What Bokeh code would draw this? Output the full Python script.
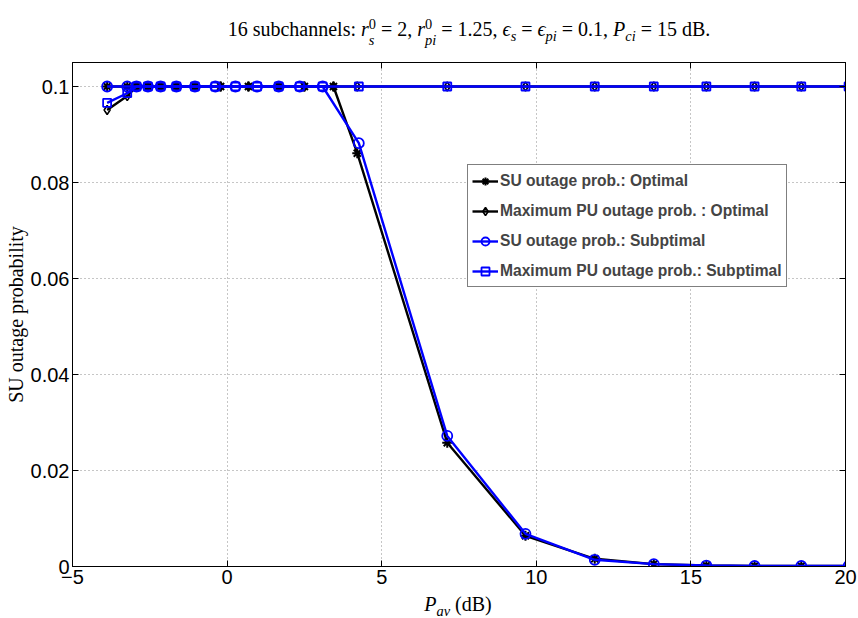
from bokeh.plotting import figure
from bokeh.models import (ColumnDataSource, Legend, LegendItem, LinearAxis,
                          FixedTicker, CustomJSTickFormatter, Range1d, Div)
from bokeh.layouts import column
from bokeh.embed import file_html
from bokeh.resources import INLINE

# Average power budget (dB) at which each scheme was evaluated
p_av_subopt = [-3.88, -3.23, -2.93, -2.56, -2.15, -1.64, -1.04, -0.38, 0.27, 0.97,
               1.67, 2.35, 3.09, 4.26, 7.12, 9.65, 11.89, 13.8, 15.5, 17.06, 18.57, 20.1]
p_av_opt = [-3.88, -3.23, -2.93, -2.56, -2.15, -1.64, -1.04, -0.21, 0.69, 1.67,
            2.50, 3.44, 4.21, 7.12, 9.65, 11.89, 13.8, 15.5, 17.06, 18.57, 20.1]

# Optimal allocation
su_out_opt = [0.1, 0.1, 0.1, 0.1, 0.1, 0.1, 0.1, 0.1, 0.1, 0.1,
              0.1, 0.1, 0.0861, 0.0258, 0.0064, 0.0016, 0.0005, 0.0002, 0.0001, 0.0001, 0.0001]
pu_out_opt = [0.0951, 0.0980, 0.1, 0.1, 0.1, 0.1, 0.1, 0.1, 0.1, 0.1,
              0.1, 0.1, 0.1, 0.1, 0.1, 0.1, 0.1, 0.1, 0.1, 0.1, 0.1]

# Suboptimal allocation
su_out_sub = [0.1, 0.1, 0.1, 0.1, 0.1, 0.1, 0.1, 0.1, 0.1, 0.1,
              0.1, 0.1, 0.1, 0.0882, 0.0272, 0.0068, 0.0014, 0.0005, 0.0002, 0.0001, 0.0001, 0.0001]
pu_out_sub = [0.0966, 0.0986, 0.1, 0.1, 0.1, 0.1, 0.1, 0.1, 0.1, 0.1,
              0.1, 0.1, 0.1, 0.1, 0.1, 0.1, 0.1, 0.1, 0.1, 0.1, 0.1, 0.1]

x_ticks = [-5, 0, 5, 10, 15, 20]
y_ticks = [0, 0.02, 0.04, 0.06, 0.08, 0.1]

legend_labels = ["SU outage prob.: Optimal",
                 "Maximum PU outage prob. : Optimal",
                 "SU outage prob.: Subptimal",
                 "Maximum PU outage prob.: Subptimal"]

SERIF = "Liberation Serif"
SANS = "Liberation Sans"


def stack(sup, sub):
    # superscript stacked over subscript, as in r_s^0
    return ('<span style="display:inline-block;vertical-align:-0.62em;line-height:1.08;'
            'font-size:0.72em;text-align:left;">'
            f'<span style="display:block;font-style:normal">{sup}</span>'
            f'<span style="display:block"><i>{sub}</i></span></span>')


def sub(s):
    return f'<sub style="font-size:0.72em;line-height:0"><i>{s}</i></sub>'


title_html = ("16 subchannels: <i>r</i>" + stack("0", "s") + " = 2, <i>r</i>" + stack("0", "pi")
              + " = 1.25, <i>&#x03F5;</i>" + sub("s") + " = <i>&#x03F5;</i>" + sub("pi")
              + " = 0.1, <i>P</i>" + sub("ci") + " = 15 dB.")

title = Div(text=title_html, width=858, height=50, margin=0,
            styles={"font-family": SERIF, "font-size": "20px", "color": "black",
                    "text-align": "center", "padding-left": "80px",
                    "line-height": "58px"})

xlabel = Div(text="<i>P</i>" + sub("av") + " (dB)", width=858, height=22, margin=0,
             styles={"font-family": SERIF, "font-size": "20px", "color": "black",
                     "text-align": "center", "padding-left": "58px",
                     "line-height": "16px"})

p = figure(width=858, height=546, x_range=Range1d(-5, 20), y_range=Range1d(0, 0.105),
           output_backend="svg", toolbar_location=None,
           min_border_left=72, min_border_right=13, min_border_top=12, min_border_bottom=30)

p.outline_line_color = "black"
p.outline_line_width = 1
p.background_fill_color = "white"
p.border_fill_color = "white"

p.xaxis.ticker = FixedTicker(ticks=x_ticks)
p.yaxis.ticker = FixedTicker(ticks=y_ticks)
p.yaxis.formatter = CustomJSTickFormatter(code="return String(Number(tick.toFixed(4)));")

for ax in (p.xaxis, p.yaxis):
    ax.major_tick_in = 6
    ax.major_tick_out = 0
    ax.minor_tick_line_color = None
    ax.axis_line_color = "black"
    ax.major_tick_line_color = "black"
    ax.major_label_text_font = SANS
    ax.major_label_text_font_size = "20px"
    ax.major_label_text_color = "black"
    ax.major_label_standoff = 3

p.yaxis.axis_label = "SU outage probability"
p.yaxis.axis_label_text_font = SERIF
p.yaxis.axis_label_text_font_style = "normal"
p.yaxis.axis_label_text_font_size = "20px"
p.yaxis.axis_label_text_color = "black"
p.yaxis.axis_label_standoff = 1

# mirrored axes on top and right carry inward ticks only
for side, ticks in (("above", x_ticks), ("right", y_ticks)):
    ax = LinearAxis(ticker=FixedTicker(ticks=ticks), major_tick_in=6, major_tick_out=0,
                    minor_tick_line_color=None,
                    formatter=CustomJSTickFormatter(code="return '';"),
                    major_label_text_font_size="1px",
                    major_label_standoff=0, axis_line_color="black")
    p.add_layout(ax, side)

p.grid.grid_line_color = "#8c8c8c"
p.grid.grid_line_dash = "1 3"
p.grid.grid_line_width = 1

src_opt = ColumnDataSource(dict(x=p_av_opt, su=su_out_opt, pu=pu_out_opt))
src_sub = ColumnDataSource(dict(x=p_av_subopt, su=su_out_sub, pu=pu_out_sub))

LW = 2.4
l1 = p.line("x", "su", source=src_opt, line_color="black", line_width=LW)
m1 = p.scatter("x", "su", source=src_opt, marker="asterisk", size=10,
               line_color="black", line_width=2)
l2 = p.line("x", "pu", source=src_opt, line_color="black", line_width=LW)
m2 = p.scatter("x", "pu", source=src_opt, marker="diamond", size=9,
               line_color="black", fill_color=None, line_width=1.6)
l3 = p.line("x", "su", source=src_sub, line_color="blue", line_width=LW)
m3 = p.scatter("x", "su", source=src_sub, marker="circle", size=10,
               line_color="blue", fill_color=None, line_width=1.8)
l4 = p.line("x", "pu", source=src_sub, line_color="blue", line_width=LW)
m4 = p.scatter("x", "pu", source=src_sub, marker="square", size=8,
               line_color="blue", fill_color=None, line_width=1.8)

legend = Legend(items=[LegendItem(label=legend_labels[0], renderers=[l1, m1]),
                       LegendItem(label=legend_labels[1], renderers=[l2, m2]),
                       LegendItem(label=legend_labels[2], renderers=[l3, m3]),
                       LegendItem(label=legend_labels[3], renderers=[l4, m4])],
                location=(395, 279), margin=0, padding=4, spacing=7,
                glyph_width=26, glyph_height=20, label_standoff=2,
                label_text_font=SANS, label_text_font_style="bold",
                label_text_font_size="15.6px", label_height=23,
                border_line_color="black", border_line_width=1,
                background_fill_color="white", background_fill_alpha=1)
p.add_layout(legend)

layout = column(title, p, xlabel, spacing=0)

open("out.html", "w").write(file_html(layout, INLINE))
